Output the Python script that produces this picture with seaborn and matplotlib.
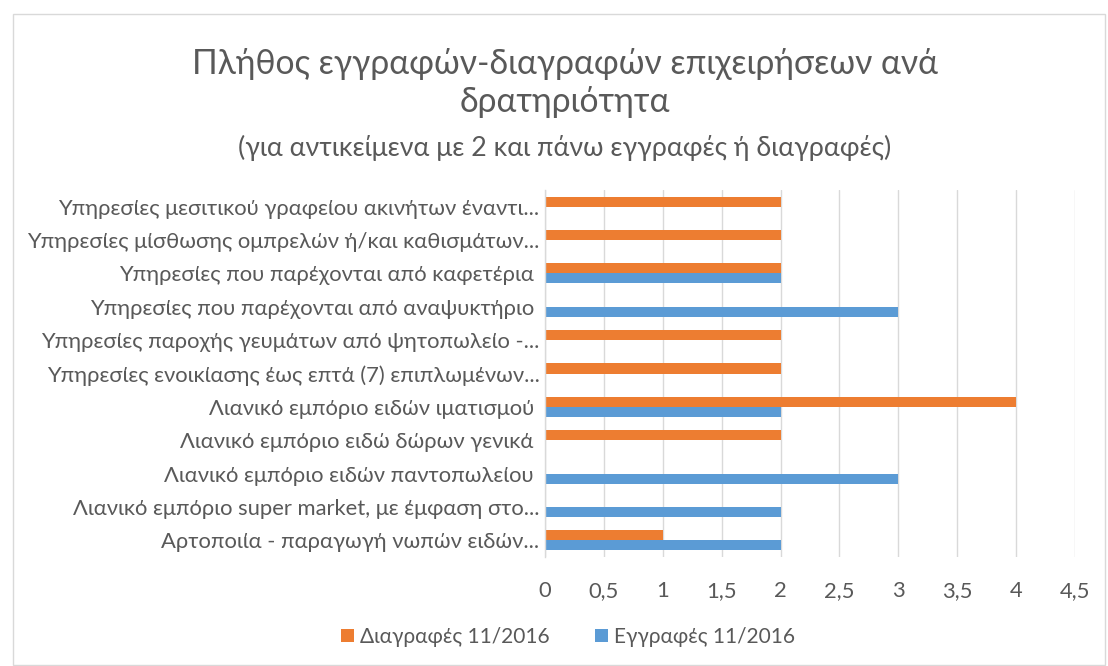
import matplotlib
matplotlib.use("Agg")
import matplotlib.pyplot as plt
import seaborn as sns
import pandas as pd
from matplotlib.patches import Rectangle

categories = [
    "Υπηρεσίες μεσιτικού γραφείου ακινήτων έναντι...",
    "Υπηρεσίες μίσθωσης ομπρελών ή/και καθισμάτων...",
    "Υπηρεσίες που παρέχονται από καφετέρια ",
    "Υπηρεσίες που παρέχονται από αναψυκτήριο ",
    "Υπηρεσίες παροχής γευμάτων από ψητοπωλείο -...",
    "Υπηρεσίες ενοικίασης έως επτά (7) επιπλωμένων...",
    "Λιανικό εμπόριο ειδών ιματισμού ",
    "Λιανικό εμπόριο ειδώ δώρων γενικά ",
    "Λιανικό εμπόριο ειδών παντοπωλείου ",
    "Λιανικό εμπόριο super market, με έμφαση στο...",
    "Αρτοποιία - παραγωγή νωπών ειδών...",
]
diagrafes = [2, 2, 2, 0, 2, 2, 4, 2, 0, 0, 1]
eggrafes = [0, 0, 2, 3, 0, 0, 2, 0, 3, 2, 2]
series_names = ["Διαγραφές 11/2016", "Εγγραφές 11/2016"]
xticks = [0, 0.5, 1, 1.5, 2, 2.5, 3, 3.5, 4, 4.5]
colors = ["#ED7D31", "#5B9BD5"]

df = pd.DataFrame({
    "cat": categories * 2,
    "value": diagrafes + eggrafes,
    "series": [series_names[0]] * len(categories) + [series_names[1]] * len(categories),
})

sns.set_theme(style="white")
plt.rcParams["font.family"] = ["Lato", "DejaVu Sans"]

fig = plt.figure(figsize=(11.08, 6.66), dpi=100)
fig.patches.append(Rectangle((13 / 1108, 0.002), 1 - 16 / 1108, 1 - 14 / 666 - 0.002,
                             transform=fig.transFigure, fill=False,
                             edgecolor="#D9D9D9", linewidth=1))
ax = fig.add_axes([545 / 1108, 1 - 557 / 666, (1075 - 545) / 1108, (557 - 190) / 666])

sns.barplot(data=df, y="cat", x="value", hue="series", hue_order=series_names,
            palette=colors, orient="h", width=0.6, ax=ax, legend=True,
            saturation=1, linewidth=0)

ax.set_xlim(0, 4.5)
ax.set_xticks(xticks)
ax.set_xticklabels([f"{t:g}".replace(".", ",") for t in xticks])
ax.grid(axis="x", color="#D9D9D9", linewidth=1)
ax.set_axisbelow(True)
for s in ["top", "right", "bottom"]:
    ax.spines[s].set_visible(False)
ax.spines["left"].set_color("#D9D9D9")
ax.spines["left"].set_linewidth(1)
ax.set_xlabel("")
ax.set_ylabel("")
ax.tick_params(axis="both", length=0, colors="#595959", labelsize=15.8)
ax.tick_params(axis="x", pad=17)
ax.tick_params(axis="y", pad=4)

leg = ax.legend(loc="center", bbox_to_anchor=(568 / 1108, 1 - 637 / 666),
                bbox_transform=fig.transFigure, ncol=2, frameon=False,
                fontsize=15, handlelength=0.6, handleheight=0.6,
                columnspacing=2.2, handletextpad=0.3)
for t in leg.get_texts():
    t.set_color("#595959")

fig.text(565 / 1108, 1 - 83 / 666, "Πλήθος εγγραφών-διαγραφών επιχειρήσεων ανά\nδρατηριότητα",
         ha="center", va="center", fontsize=24.2, color="#595959", linespacing=1.22)
fig.text(565 / 1108, 1 - 148 / 666, "(για αντικείμενα με 2 και πάνω εγγραφές ή διαγραφές)",
         ha="center", va="center", fontsize=19.3, color="#595959")

fig.savefig("out.png", dpi=100)
